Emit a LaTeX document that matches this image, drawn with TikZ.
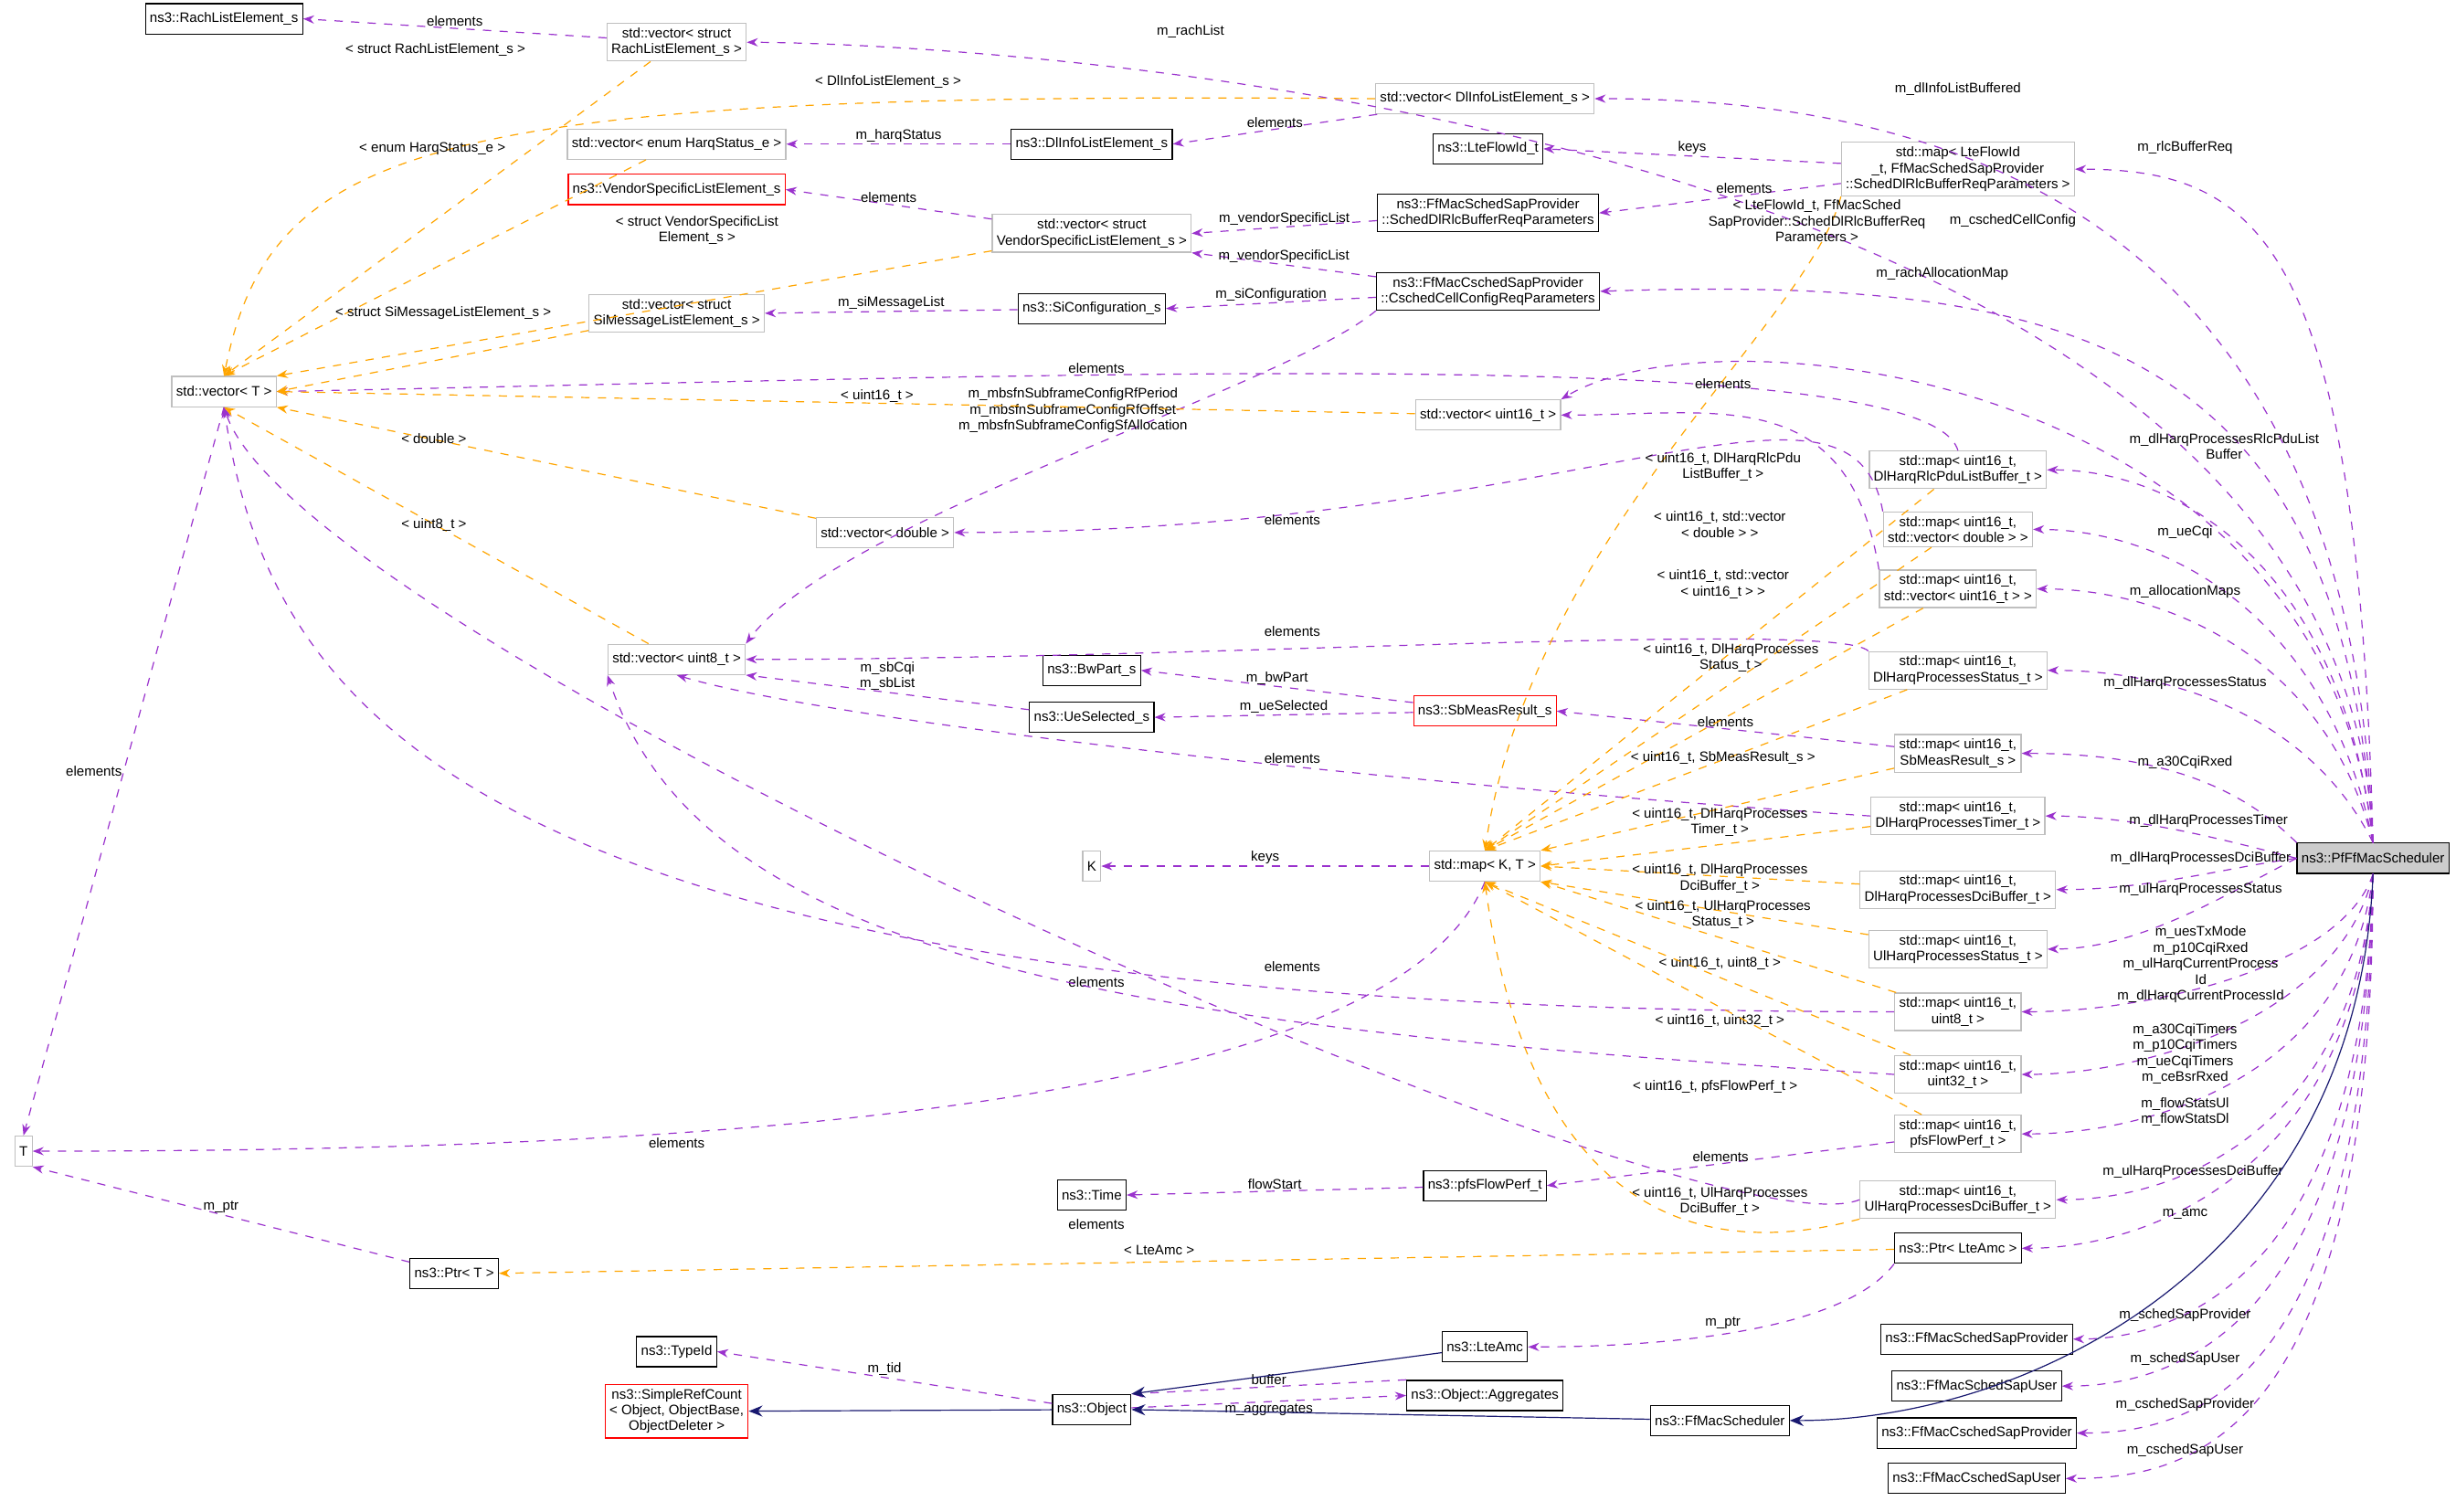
\documentclass[tikz,border=0pt]{standalone}
\usepackage{fontspec}
\setmainfont{Liberation Sans}
\usetikzlibrary{arrows.meta}
\definecolor{dxgray}{RGB}{191,191,191}
\definecolor{dxpurple}{RGB}{154,50,205}
\definecolor{dxorange}{RGB}{255,165,0}
\definecolor{dxnavy}{RGB}{25,25,112}
\tikzset{
  cls/.style={draw=dxgray, fill=white, font=\fontsize{5}{5.8}\selectfont, align=center, inner sep=1.6pt, minimum height=11pt},
  clsb/.style={cls, draw=black},
  clsr/.style={cls, draw=red},
  schbox/.style={cls, draw=black, fill=dxgray!80},
  mem/.style={draw=dxpurple, dashed, -{Stealth[length=4pt,width=3pt]}},
  tpl/.style={draw=dxorange, dashed, -{Stealth[length=4pt,width=3pt]}},
  inh/.style={draw=dxnavy, -{Stealth[length=5pt,width=4pt]}},
  lbl/.style={font=\fontsize{5}{5.8}\selectfont, align=center, inner sep=0.5pt, text=black}
}
\begin{document}
\begin{tikzpicture}[x=0.02cm, y=-0.02cm]
\useasboundingbox (0,0) rectangle (1568,965);
% classes
\node[clsb] (rachel) at (143,12) {ns3::RachListElement\_s};
\node[cls] (vrach) at (432,27) {std::vector< struct\\RachListElement\_s >};
\node[cls] (vdlinfo) at (948,63) {std::vector< DlInfoListElement\_s >};
\node[clsb] (flowid) at (950,95) {ns3::LteFlowId\_t};
\node[cls] (mrlc) at (1250,108) {std::map< LteFlowId\\\_t, FfMacSchedSapProvider\\::SchedDlRlcBufferReqParameters >};
\node[cls] (vharq) at (432,92) {std::vector< enum HarqStatus\_e >};
\node[clsb] (dlinfoel) at (697,92) {ns3::DlInfoListElement\_s};
\node[clsr] (vendel) at (432,121) {ns3::VendorSpecificListElement\_s};
\node[cls] (vvend) at (697,149) {std::vector< struct\\VendorSpecificListElement\_s >};
\node[clsb] (rlcreq) at (950,136) {ns3::FfMacSchedSapProvider\\::SchedDlRlcBufferReqParameters};
\node[clsb] (cellcfg) at (950,186) {ns3::FfMacCschedSapProvider\\::CschedCellConfigReqParameters};
\node[cls] (vsi) at (432,200) {std::vector< struct\\SiMessageListElement\_s >};
\node[clsb] (sicfg) at (697,197) {ns3::SiConfiguration\_s};
\node[cls] (vt) at (143,250) {std::vector< T >};
\node[cls] (vu16) at (950,265) {std::vector< uint16\_t >};
\node[cls] (mpdu) at (1250,300) {std::map< uint16\_t,\\DlHarqRlcPduListBuffer\_t >};
\node[cls] (mcqi) at (1250,338) {std::map< uint16\_t,\\std::vector< double > >};
\node[cls] (vdbl) at (565,340) {std::vector< double >};
\node[cls] (malloc) at (1250,376) {std::map< uint16\_t,\\std::vector< uint16\_t > >};
\node[cls] (vu8) at (432,421) {std::vector< uint8\_t >};
\node[clsb] (bwpart) at (697,428) {ns3::BwPart\_s};
\node[clsb] (uesel) at (697,458) {ns3::UeSelected\_s};
\node[clsr] (sbmeas) at (948,454) {ns3::SbMeasResult\_s};
\node[cls] (mhstat) at (1250,428) {std::map< uint16\_t,\\DlHarqProcessesStatus\_t >};
\node[cls] (msb) at (1250,481) {std::map< uint16\_t,\\SbMeasResult\_s >};
\node[cls] (mtimer) at (1250,521) {std::map< uint16\_t,\\DlHarqProcessesTimer\_t >};
\node[cls] (kk) at (697,553) {K};
\node[cls] (mkt) at (948,553) {std::map< K, T >};
\node[schbox] (sch) at (1515,548) {ns3::PfFfMacScheduler};
\node[cls] (mdci) at (1250,568) {std::map< uint16\_t,\\DlHarqProcessesDciBuffer\_t >};
\node[cls] (mulst) at (1250,606) {std::map< uint16\_t,\\UlHarqProcessesStatus\_t >};
\node[cls] (mu8) at (1250,646) {std::map< uint16\_t,\\uint8\_t >};
\node[cls] (mu32) at (1250,686) {std::map< uint16\_t,\\uint32\_t >};
\node[cls] (mflow) at (1250,724) {std::map< uint16\_t,\\pfsFlowPerf\_t >};
\node[cls] (tt) at (15,735) {T};
\node[clsb] (time) at (697,763) {ns3::Time};
\node[clsb] (pfsflow) at (948,757) {ns3::pfsFlowPerf\_t};
\node[cls] (muldci) at (1250,766) {std::map< uint16\_t,\\UlHarqProcessesDciBuffer\_t >};
\node[clsb] (ptramc) at (1250,797) {ns3::Ptr< LteAmc >};
\node[clsb] (ptrt) at (290,813) {ns3::Ptr< T >};
\node[clsb] (lteamc) at (948,860) {ns3::LteAmc};
\node[clsb] (typeid) at (432,863) {ns3::TypeId};
\node[clsb] (sprov) at (1262,855) {ns3::FfMacSchedSapProvider};
\node[clsb] (suser) at (1262,885) {ns3::FfMacSchedSapUser};
\node[clsr] (simref) at (432,901) {ns3::SimpleRefCount\\< Object, ObjectBase,\\ObjectDeleter >};
\node[clsb] (object) at (697,900) {ns3::Object};
\node[clsb] (aggr) at (948,891) {ns3::Object::Aggregates};
\node[clsb] (ffmac) at (1098,907) {ns3::FfMacScheduler};
\node[clsb] (cprov) at (1262,915) {ns3::FfMacCschedSapProvider};
\node[clsb] (cuser) at (1262,944) {ns3::FfMacCschedSapUser};
% members of the scheduler
\draw[mem] (sch.north) .. controls +(-20,-480) and +(100,0) .. (vrach.east);
\draw[mem] (sch.north) .. controls +(-15,-420) and +(200,0) .. (vdlinfo.east);
\draw[mem] (sch.north) .. controls +(-10,-380) and +(120,0) .. (mrlc.east);
\draw[mem] (sch.north) .. controls +(-20,-320) and +(300,-10) .. (cellcfg.east);
\draw[mem] (sch.north) .. controls +(-30,-300) and +(100,-60) .. (vu16.north east);
\draw[mem] (sch.north) .. controls +(-20,-180) and +(80,0) .. (mpdu.east);
\draw[mem] (sch.north) .. controls +(-30,-150) and +(80,0) .. (mcqi.east);
\draw[mem] (sch.north) .. controls +(-30,-120) and +(80,0) .. (malloc.east);
\draw[mem] (sch.north) .. controls +(-40,-80) and +(80,0) .. (mhstat.east);
\draw[mem] (sch.north west) .. controls +(-40,-40) and +(80,0) .. (msb.east);
\draw[mem] (sch.west) .. controls +(-40,-10) and +(60,0) .. (mtimer.east);
\draw[mem] (sch.west) .. controls +(-40,5) and +(60,0) .. (mdci.east);
\draw[mem] (sch.west) .. controls +(-40,20) and +(60,0) .. (mulst.east);
\draw[mem] (sch.south) .. controls +(-20,60) and +(80,0) .. (mu8.east);
\draw[mem] (sch.south) .. controls +(-20,90) and +(80,0) .. (mu32.east);
\draw[mem] (sch.south) .. controls +(-15,130) and +(80,0) .. (mflow.east);
\draw[mem] (sch.south) .. controls +(-10,160) and +(80,0) .. (muldci.east);
\draw[mem] (sch.south) .. controls +(-10,190) and +(80,0) .. (ptramc.east);
\draw[mem] (sch.south) .. controls +(-5,240) and +(80,0) .. (sprov.east);
\draw[mem] (sch.south) .. controls +(-5,280) and +(80,0) .. (suser.east);
\draw[mem] (sch.south) .. controls +(-3,320) and +(80,0) .. (cprov.east);
\draw[mem] (sch.south) .. controls +(0,360) and +(80,0) .. (cuser.east);
\node[lbl] at (760,20) {m\_rachList};
\node[lbl] at (1250,57) {m\_dlInfoListBuffered};
\node[lbl] at (1395,94) {m\_rlcBufferReq};
\node[lbl] at (1285,141) {m\_cschedCellConfig};
\node[lbl] at (1240,175) {m\_rachAllocationMap};
\node[lbl] at (1420,285) {m\_dlHarqProcessesRlcPduList\\Buffer};
\node[lbl] at (1395,340) {m\_ueCqi};
\node[lbl] at (1395,378) {m\_allocationMaps};
\node[lbl] at (1395,436) {m\_dlHarqProcessesStatus};
\node[lbl] at (1395,487) {m\_a30CqiRxed};
\node[lbl] at (1410,524) {m\_dlHarqProcessesTimer};
\node[lbl] at (1405,548) {m\_dlHarqProcessesDciBuffer};
\node[lbl] at (1405,568) {m\_ulHarqProcessesStatus};
\node[lbl] at (1405,616) {m\_uesTxMode\\m\_p10CqiRxed\\m\_ulHarqCurrentProcess\\Id\\m\_dlHarqCurrentProcessId};
\node[lbl] at (1395,673) {m\_a30CqiTimers\\m\_p10CqiTimers\\m\_ueCqiTimers\\m\_ceBsrRxed};
\node[lbl] at (1395,710) {m\_flowStatsUl\\m\_flowStatsDl};
\node[lbl] at (1400,748) {m\_ulHarqProcessesDciBuffer};
\node[lbl] at (1395,775) {m\_amc};
\node[lbl] at (1395,840) {m\_schedSapProvider};
\node[lbl] at (1395,868) {m\_schedSapUser};
\node[lbl] at (1395,897) {m\_cschedSapProvider};
\node[lbl] at (1395,926) {m\_cschedSapUser};
% other members
\draw[mem] (vrach) -- node[lbl,above] {elements} (rachel.east);
\draw[mem] (vdlinfo) -- node[lbl,above] {elements} (dlinfoel.east);
\draw[mem] (dlinfoel) -- node[lbl,above] {m\_harqStatus} (vharq.east);
\draw[mem] (mrlc) -- node[lbl,above] {keys} (flowid.east);
\draw[mem] (mrlc) -- node[lbl,above,pos=0.4] {elements} (rlcreq.east);
\draw[mem] (rlcreq) -- node[lbl,above] {m\_vendorSpecificList} (vvend.east);
\draw[mem] (cellcfg) -- node[lbl,above] {m\_vendorSpecificList} (vvend.south east);
\draw[mem] (vvend) -- node[lbl,above] {elements} (vendel.east);
\draw[mem] (cellcfg) -- node[lbl,above] {m\_siConfiguration} (sicfg.east);
\draw[mem] (sicfg) -- node[lbl,above] {m\_siMessageList} (vsi.east);
\draw[mem] (cellcfg.south west) .. controls +(-60,50) and +(60,-80) .. (vu8.north east);
\node[lbl] at (685,262) {m\_mbsfnSubframeConfigRfPeriod\\m\_mbsfnSubframeConfigRfOffset\\m\_mbsfnSubframeConfigSfAllocation};
\draw[mem] (mpdu.north) .. controls +(-20,-70) and +(500,-10) .. (vt.east);
\node[lbl] at (700,235) {elements};
\draw[mem] (mcqi.north west) .. controls +(-20,-110) and +(400,0) .. (vdbl.east);
\node[lbl] at (825,332) {elements};
\draw[mem] (malloc.north west) .. controls +(-20,-120) and +(100,0) .. (vu16.east);
\node[lbl] at (1100,245) {elements};
\draw[mem] (mhstat.north west) .. controls +(-20,-20) and +(300,0) .. (vu8.east);
\node[lbl] at (825,403) {elements};
\draw[mem] (sbmeas) -- node[lbl,above] {m\_bwPart} (bwpart.east);
\draw[mem] (sbmeas) -- node[lbl,above] {m\_ueSelected} (uesel.east);
\draw[mem] (uesel) -- node[lbl,above] {m\_sbCqi\\m\_sbList} (vu8.south east);
\draw[mem] (msb) -- node[lbl,above] {elements} (sbmeas.east);
\draw[mem] (mtimer.west) .. controls +(-300,-20) and +(100,30) .. (vu8.south);
\node[lbl] at (825,484) {elements};
\draw[mem] (mkt) -- node[lbl,above] {keys} (kk.east);
\draw[mem] (mkt.south) .. controls +(-60,150) and +(400,0) .. (tt.east);
\node[lbl] at (432,730) {elements};
\draw[mem] (vt.south) -- node[lbl,left,pos=0.5] {elements} (tt.north);
\draw[mem] (mu8.west) .. controls +(-900,0) and +(30,200) .. (vt.south);
\node[lbl] at (700,627) {elements};
\draw[mem] (mu32.west) .. controls +(-500,-30) and +(60,180) .. (vu8.south west);
\node[lbl] at (825,617) {elements};
\draw[mem] (mflow) -- node[lbl,above] {elements} (pfsflow.east);
\draw[mem] (pfsflow) -- node[lbl,above] {flowStart} (time.east);
\draw[mem] (muldci.west) .. controls +(-100,40) and +(50,150) .. (vt.south);
\node[lbl] at (700,782) {elements};
\draw[mem] (ptrt) -- node[lbl,above] {m\_ptr} (tt.south east);
\draw[mem] (ptramc.south west) .. controls +(-30,40) and +(100,0) .. (lteamc.east);
\node[lbl] at (1100,845) {m\_ptr};
\draw[mem] (object) -- node[lbl,above] {m\_tid} (typeid.east);
\draw[mem] (object) -- node[lbl,below] {m\_aggregates} (aggr.west);
\draw[mem] (aggr.north west) -- node[lbl,above] {buffer} (object.north east);
% template instances
\draw[tpl] (vrach) -- (vt.north);
\node[lbl] at (278,32) {< struct RachListElement\_s >};
\draw[tpl] (vdlinfo.west) .. controls +(-600,-5) and +(30,-150) .. (vt.north);
\node[lbl] at (567,52) {< DlInfoListElement\_s >};
\draw[tpl] (vharq) -- (vt.north);
\node[lbl] at (276,95) {< enum HarqStatus\_e >};
\draw[tpl] (vvend) -- (vt.north east);
\node[lbl] at (445,147) {< struct VendorSpecificList\\Element\_s >};
\draw[tpl] (vsi) -- (vt.east);
\node[lbl] at (283,200) {< struct SiMessageListElement\_s >};
\draw[tpl] (vu16) -- (vt.east);
\node[lbl] at (560,253) {< uint16\_t >};
\draw[tpl] (vdbl) -- (vt.south east);
\node[lbl] at (277,280) {< double >};
\draw[tpl] (vu8) -- (vt.south);
\node[lbl] at (277,335) {< uint8\_t >};
\draw[tpl] (mrlc.south west) .. controls +(-20,80) and +(30,-200) .. (mkt.north);
\node[lbl] at (1160,141) {< LteFlowId\_t, FfMacSched\\SapProvider::SchedDlRlcBufferReq\\Parameters >};
\draw[tpl] (mpdu) -- (mkt.north);
\node[lbl] at (1100,298) {< uint16\_t, DlHarqRlcPdu\\ListBuffer\_t >};
\draw[tpl] (mcqi) -- (mkt.north);
\node[lbl] at (1098,335) {< uint16\_t, std::vector\\< double > >};
\draw[tpl] (malloc) -- (mkt.north);
\node[lbl] at (1100,373) {< uint16\_t, std::vector\\< uint16\_t > >};
\draw[tpl] (mhstat) -- (mkt.north);
\node[lbl] at (1105,420) {< uint16\_t, DlHarqProcesses\\Status\_t >};
\draw[tpl] (msb) -- (mkt.north east);
\node[lbl] at (1100,484) {< uint16\_t, SbMeasResult\_s >};
\draw[tpl] (mtimer) -- (mkt.east);
\node[lbl] at (1098,525) {< uint16\_t, DlHarqProcesses\\Timer\_t >};
\draw[tpl] (mdci) -- (mkt.east);
\node[lbl] at (1098,561) {< uint16\_t, DlHarqProcesses\\DciBuffer\_t >};
\draw[tpl] (mulst) -- (mkt.south east);
\node[lbl] at (1100,584) {< uint16\_t, UlHarqProcesses\\Status\_t >};
\draw[tpl] (mu8) -- (mkt.south east);
\node[lbl] at (1098,615) {< uint16\_t, uint8\_t >};
\draw[tpl] (mu32) -- (mkt.south);
\node[lbl] at (1098,652) {< uint16\_t, uint32\_t >};
\draw[tpl] (mflow) -- (mkt.south);
\node[lbl] at (1095,694) {< uint16\_t, pfsFlowPerf\_t >};
\draw[tpl] (muldci.south west) .. controls +(-150,40) and +(20,150) .. (mkt.south);
\node[lbl] at (1098,767) {< uint16\_t, UlHarqProcesses\\DciBuffer\_t >};
\draw[tpl] (ptramc) -- (ptrt.east);
\node[lbl] at (740,798) {< LteAmc >};
% inheritance
\draw[inh] (sch.south) .. controls +(-10,250) and +(150,0) .. (ffmac.east);
\draw[inh] (ffmac) -- (object.east);
\draw[inh] (lteamc) -- (object.north east);
\draw[inh] (object) -- (simref.east);
\end{tikzpicture}
\end{document}
